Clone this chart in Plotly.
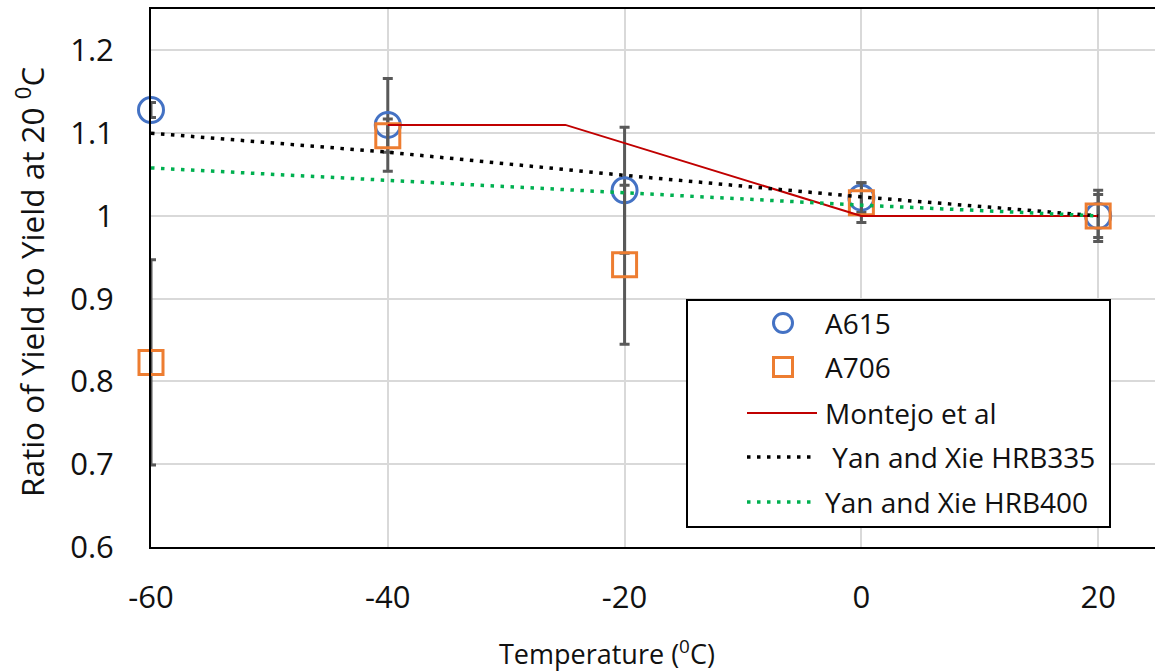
import plotly.graph_objects as go

# Test temperatures (deg C) and measured yield ratios with their error half-widths
temps = [-60, -40, -20, 0, 20]
a615 = [1.128, 1.110, 1.031, 1.022, 1.000]
a615_err = [0.009, 0.056, 0.076, 0.018, 0.031]
a706 = [0.823, 1.097, 0.941, 1.016, 1.000]
a706_err = [0.124, 0.020, 0.096, 0.024, 0.026]

# Published models
montejo_t = [-40, -25, 0, 20]
montejo = [1.11, 1.11, 1.00, 1.00]
yan_t = [-60, -40, -20, 0, 20]
yan_hrb335 = [1.100, 1.077, 1.049, 1.023, 1.000]
yan_hrb400 = [1.058, 1.043, 1.028, 1.013, 1.000]

x_ticks = [-60, -40, -20, 0, 20]
x_tick_text = ["-60", "-40", "-20", "0", "20"]
y_ticks = [0.6, 0.7, 0.8, 0.9, 1.0, 1.1, 1.2]
y_tick_text = ["0.6", "0.7", "0.8", "0.9", "1", "1.1", "1.2"]

BLUE = "#4472C4"
ORANGE = "#ED7D31"
RED = "#C00000"
BLACK = "#000000"
GREEN = "#00B050"
ERR = "#595959"
DOT = "3.5px,6.5px"
FONT = "Open Sans"

W, H = 1155, 672
ML, MR, MT, MB = 151, 0, 9, 125
PW, PH = W - ML - MR, H - MT - MB


def px_x(p):
    return (p - ML) / PW


def px_y(p):
    return (H - MB - p) / PH


fig = go.Figure()

fig.add_trace(go.Scatter(
    x=temps, y=a615, mode="markers", name="A615", cliponaxis=False,
    marker=dict(symbol="circle-open", size=25, color=BLUE, line=dict(width=3, color=BLUE)),
    error_y=dict(type="data", array=a615_err, visible=True, color=ERR, thickness=3, width=5),
))
fig.add_trace(go.Scatter(
    x=temps, y=a706, mode="markers", name="A706", cliponaxis=False,
    marker=dict(symbol="square-open", size=24, color=ORANGE, line=dict(width=3, color=ORANGE)),
    error_y=dict(type="data", array=a706_err, visible=True, color=ERR, thickness=3, width=5),
))
fig.add_trace(go.Scatter(
    x=montejo_t, y=montejo, mode="lines", name="Montejo et al",
    line=dict(color=RED, width=2),
))
fig.add_trace(go.Scatter(
    x=yan_t, y=yan_hrb335, mode="lines", name=" Yan and Xie HRB335",
    line=dict(color=BLACK, width=3.5, dash=DOT),
))
fig.add_trace(go.Scatter(
    x=yan_t, y=yan_hrb400, mode="lines", name="Yan and Xie HRB400",
    line=dict(color=GREEN, width=3.5, dash=DOT),
))

fig.update_layout(
    width=W, height=H,
    margin=dict(l=ML, r=MR, t=MT, b=MB),
    plot_bgcolor="white", paper_bgcolor="white",
    showlegend=False,
    font=dict(family=FONT, size=28, color="#111111"),
)
fig.update_xaxes(
    range=[-60, 24.8], tickvals=x_ticks, ticktext=x_tick_text, ticks="",
    showgrid=True, gridcolor="#D9D9D9", gridwidth=1.5, zeroline=False,
    showline=True, linecolor=BLACK, linewidth=2, mirror=True,
    tickfont=dict(size=31), ticklabelstandoff=22, automargin=False,
)
fig.update_yaxes(
    range=[0.6, 1.25], tickvals=y_ticks, ticktext=y_tick_text, ticks="",
    showgrid=True, gridcolor="#D9D9D9", gridwidth=1.5, zeroline=False,
    showline=True, linecolor=BLACK, linewidth=2, mirror=False,
    tickfont=dict(size=31), ticklabelstandoff=29, automargin=False,
)

# Axis titles
fig.add_annotation(
    x=px_x(607), y=px_y(652), xref="paper", yref="paper",
    text="Temperature (<sup>0</sup>C)", showarrow=False,
    xanchor="center", yanchor="middle", font=dict(size=27),
)
fig.add_annotation(
    x=px_x(30), y=px_y(282), xref="paper", yref="paper",
    text="Ratio of Yield to Yield at 20 <sup>0</sup>C", showarrow=False,
    textangle=-90, xanchor="center", yanchor="middle", font=dict(size=31.5),
)

# Legend box
shapes = [dict(
    type="rect", xref="paper", yref="paper",
    x0=px_x(687), x1=px_x(1110), y0=px_y(527), y1=px_y(300),
    line=dict(color=BLACK, width=2), fillcolor="white", layer="above",
)]
mx = 783
r = 9.5
shapes.append(dict(
    type="circle", xref="paper", yref="paper",
    x0=px_x(mx - r), x1=px_x(mx + r), y0=px_y(323 + r), y1=px_y(323 - r),
    line=dict(color=BLUE, width=3), fillcolor="rgba(0,0,0,0)",
))
shapes.append(dict(
    type="rect", xref="paper", yref="paper",
    x0=px_x(mx - r), x1=px_x(mx + r), y0=px_y(367 + r), y1=px_y(367 - r),
    line=dict(color=ORANGE, width=3), fillcolor="rgba(0,0,0,0)",
))
for yy, col, dash, wd in [(413, RED, "solid", 2), (457, BLACK, DOT, 3.5), (502, GREEN, DOT, 3.5)]:
    shapes.append(dict(
        type="line", xref="paper", yref="paper",
        x0=px_x(747), x1=px_x(817), y0=px_y(yy), y1=px_y(yy),
        line=dict(color=col, width=wd, dash=dash),
    ))
fig.update_layout(shapes=shapes)

legend_rows = [(tr.name, yy) for tr, yy in zip(fig.data, [323, 367, 413, 457, 502])]
for label, yy in legend_rows:
    fig.add_annotation(
        x=px_x(823), y=px_y(yy), xref="paper", yref="paper",
        text=label.replace(" ", "&nbsp;", 1) if label.startswith(" ") else label,
        showarrow=False, xanchor="left", yanchor="middle", font=dict(size=28),
    )

fig.write_html("out.html")
